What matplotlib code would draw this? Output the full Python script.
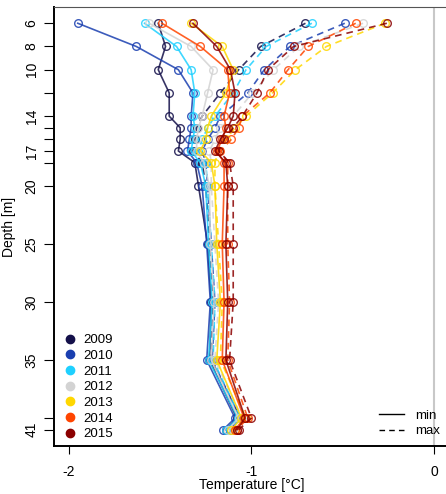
import matplotlib.pyplot as plt
from matplotlib.lines import Line2D

plt.rcParams['font.family'] = ['Liberation Sans', 'DejaVu Sans']

depths = [6, 8, 10, 12, 14, 15, 16, 17, 18, 20, 25, 30, 35, 40, 41]
years = ["2009", "2010", "2011", "2012", "2013", "2014", "2015"]
colors = ["#14104a", "#1a3fb0", "#1ed0ff", "#d3d3d3", "#ffd700", "#ff4500", "#8b0000"]

# minimum temperature profiles (solid)
t_min = {
    "2009": [-1.51, -1.47, -1.51, -1.45, -1.45, -1.39, -1.39, -1.40, -1.31, -1.29, -1.24, -1.22, -1.23, -1.08, -1.14],
    "2010": [-1.95, -1.63, -1.40, -1.32, -1.33, -1.33, -1.34, -1.35, -1.30, -1.27, -1.245, -1.225, -1.245, -1.09, -1.155],
    "2011": [-1.585, -1.41, -1.33, -1.31, -1.32, -1.31, -1.32, -1.33, -1.28, -1.25, -1.235, -1.215, -1.235, -1.075, -1.14],
    "2012": [-1.56, -1.33, -1.21, -1.24, -1.27, -1.29, -1.30, -1.30, -1.26, -1.23, -1.225, -1.205, -1.22, -1.07, -1.13],
    "2013": [-1.33, -1.16, -1.10, -1.14, -1.22, -1.24, -1.25, -1.28, -1.22, -1.20, -1.19, -1.17, -1.19, -1.055, -1.11],
    "2014": [-1.49, -1.28, -1.13, -1.12, -1.15, -1.14, -1.16, -1.19, -1.15, -1.15, -1.16, -1.15, -1.16, -1.04, -1.09],
    "2015": [-1.32, -1.19, -1.115, -1.09, -1.10, -1.13, -1.17, -1.20, -1.14, -1.13, -1.14, -1.13, -1.14, -1.035, -1.08],
}

# maximum temperature profiles (dashed)
t_max = {
    "2009": [-0.705, -0.95, -1.07, -1.17, -1.27, -1.30, -1.31, -1.32, -1.27, -1.25, -1.23, -1.21, -1.22, -1.06, -1.12],
    "2010": [-0.49, -0.79, -0.93, -1.02, -1.17, -1.20, -1.24, -1.27, -1.25, -1.24, -1.22, -1.20, -1.215, -1.06, -1.12],
    "2011": [-0.67, -0.92, -1.03, -1.10, -1.20, -1.24, -1.27, -1.29, -1.25, -1.24, -1.22, -1.20, -1.21, -1.06, -1.12],
    "2012": [-0.39, -0.74, -0.88, -0.995, -1.10, -1.17, -1.20, -1.23, -1.22, -1.22, -1.20, -1.18, -1.20, -1.05, -1.10],
    "2013": [-0.27, -0.59, -0.76, -0.885, -1.03, -1.09, -1.14, -1.18, -1.20, -1.20, -1.18, -1.16, -1.17, -1.03, -1.09],
    "2014": [-0.43, -0.69, -0.80, -0.90, -1.05, -1.07, -1.11, -1.17, -1.13, -1.13, -1.13, -1.12, -1.13, -1.02, -1.08],
    "2015": [-0.26, -0.77, -0.91, -0.97, -1.05, -1.10, -1.15, -1.18, -1.12, -1.10, -1.10, -1.10, -1.12, -1.00, -1.07],
}

ytick_labels = ["6", "8", "10", "", "14", "", "", "17", "", "20", "25", "30", "35", "", "41"]
xticks = [-2, -1, 0]

fig = plt.figure(figsize=(4.46, 4.94), dpi=100)
ax = fig.add_axes([54 / 446, 48 / 494, 395 / 446, 439 / 494])

ax.axvline(0, color="#c8c8c8", lw=1.5, zorder=0)

for year, col in zip(years, colors):
    ax.plot(t_min[year], depths, color=col, lw=1.2, alpha=0.85,
            marker="o", mfc="none", mec=col, ms=5.5, mew=1.0)
    ax.plot(t_max[year], depths, color=col, lw=1.2, alpha=0.85, ls=(0, (4, 3)),
            marker="o", mfc="none", mec=col, ms=5.5, mew=1.0)

ax.set_xlim(-2.08, 0.08)
ax.set_ylim(42.4, 4.6)
ax.set_yticks(depths)
ax.set_yticklabels(ytick_labels, rotation=90, va="center", fontsize=10)
ax.set_xticks(xticks)
ax.set_xticklabels([str(x) for x in xticks], fontsize=10)
ax.tick_params(axis="y", length=7, pad=4)
ax.tick_params(axis="x", length=6, pad=8)
ax.set_ylabel("Depth [m]", fontsize=10)
ax.yaxis.set_label_coords(-0.095, 0.5)
ax.set_xlabel("Temperature [°C]", fontsize=10, va="center")
ax.xaxis.set_label_coords(0.5, -0.089)

ax.spines["left"].set_linewidth(1.4)
ax.spines["bottom"].set_linewidth(1.4)
ax.spines["top"].set_color("#555555")
ax.spines["right"].set_visible(False)

# year legend
handles = [Line2D([], [], ls="none", marker="o", color=c, ms=6) for c in colors]
leg1 = ax.legend(handles, years, loc="lower left", bbox_to_anchor=(0.005, -0.008),
                 frameon=False, fontsize=9.5, handlelength=0.8, handletextpad=0.6,
                 labelspacing=0.26, borderaxespad=0.3)
ax.add_artist(leg1)

# min / max legend
lh = [Line2D([], [], color="black", lw=1.0),
      Line2D([], [], color="black", lw=1.0, ls=(0, (4, 3)))]
ax.legend(lh, ["min", "max"], loc="lower right", bbox_to_anchor=(1.0, -0.001),
          frameon=False, fontsize=9.5, handlelength=1.9, handletextpad=0.8,
          labelspacing=0.25, borderaxespad=0.3)

fig.savefig("out.png", dpi=100)
